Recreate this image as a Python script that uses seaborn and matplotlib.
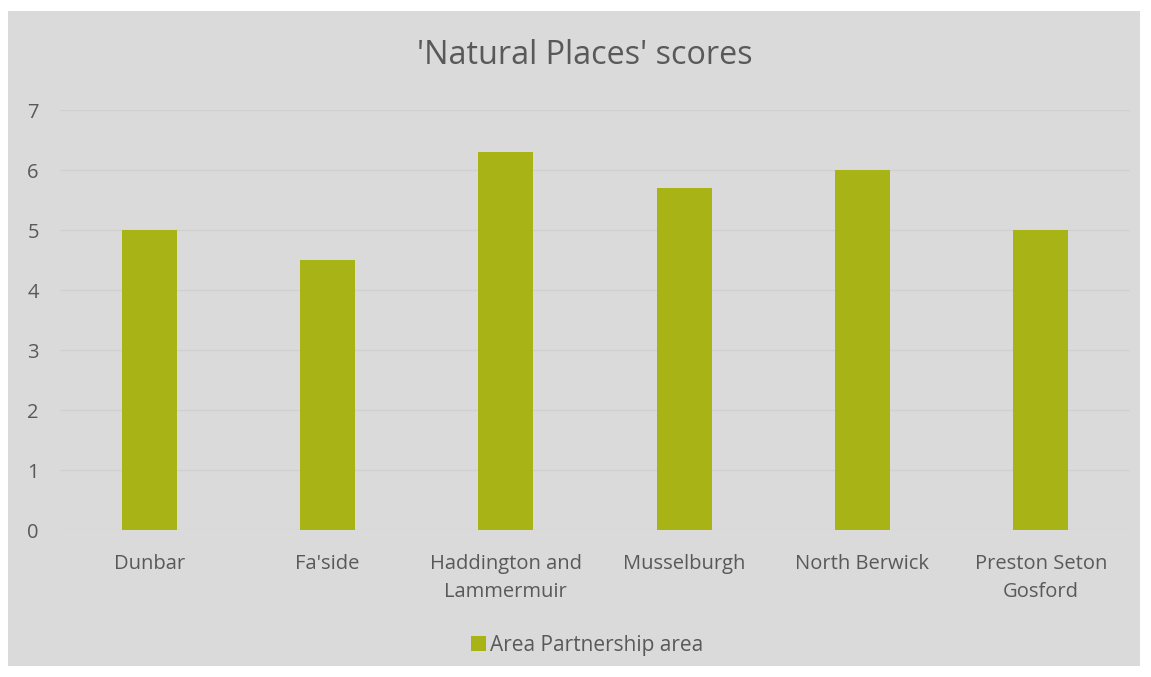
import matplotlib
matplotlib.use("Agg")
import matplotlib.pyplot as plt
import seaborn as sns
import pandas as pd
from matplotlib.patches import Rectangle

categories = ["Dunbar", "Fa'side", "Haddington and\nLammermuir", "Musselburgh", "North Berwick", "Preston Seton\nGosford"]
values = [5.0, 4.5, 6.3, 5.7, 6.0, 5.0]
series_name = "Area Partnership area"
title = "'Natural Places' scores"
yticks = [0, 1, 2, 3, 4, 5, 6, 7]

sns.set_style("white")
plt.rcParams['font.family'] = ['Open Sans', 'DejaVu Sans']

W, H = 1151, 677
fig = plt.figure(figsize=(W/100, H/100), dpi=100)
fig.patch.set_facecolor("white")
bg = "#dadada"
fig.patches.append(Rectangle((8/W, 1 - 666/H), (1140-8)/W, (666-11)/H,
                             transform=fig.transFigure, facecolor=bg, edgecolor="none", zorder=-10))

ax = fig.add_axes([60/W, 1 - 530/H, (1130-60)/W, (530-110)/H])
ax.set_facecolor(bg)

df = pd.DataFrame({"cat": categories, "val": values, "series": series_name})
sns.barplot(data=df, x="cat", y="val", hue="series", palette=["#a8b416"], width=0.31, ax=ax,
            saturation=1, legend=True, linewidth=0)

ax.set_ylim(0, 7)
ax.set_yticks(yticks)
ax.set_xlim(-0.5, len(categories) - 0.5)
ax.yaxis.grid(True, color="#d0d0d0", linewidth=1)
ax.set_axisbelow(True)
for s in ax.spines.values():
    s.set_visible(False)
ax.tick_params(axis="both", length=0, labelsize=14.5, labelcolor="#595959")
ax.tick_params(axis="y", pad=23.5)
ax.tick_params(axis="x", pad=17)
for lbl in ax.get_yticklabels():
    lbl.set_horizontalalignment("left")
for lbl in ax.get_xticklabels():
    lbl.set_linespacing(1.55)
ax.set_xlabel("")
ax.set_ylabel("")
fig.text(585/W, 1 - 56/H, title, fontsize=23.3, color="#595959", ha="center", va="center")

leg = ax.legend(loc="center", bbox_to_anchor=(0.5 - 8/1070, (1 - 645/H - (1 - 530/H)) / ((530-110)/H)),
                frameon=False, fontsize=15, handlelength=0.7, handleheight=0.7, handletextpad=0.2)
for t in leg.get_texts():
    t.set_color("#595959")

fig.savefig("out.png", dpi=100, facecolor="white")
